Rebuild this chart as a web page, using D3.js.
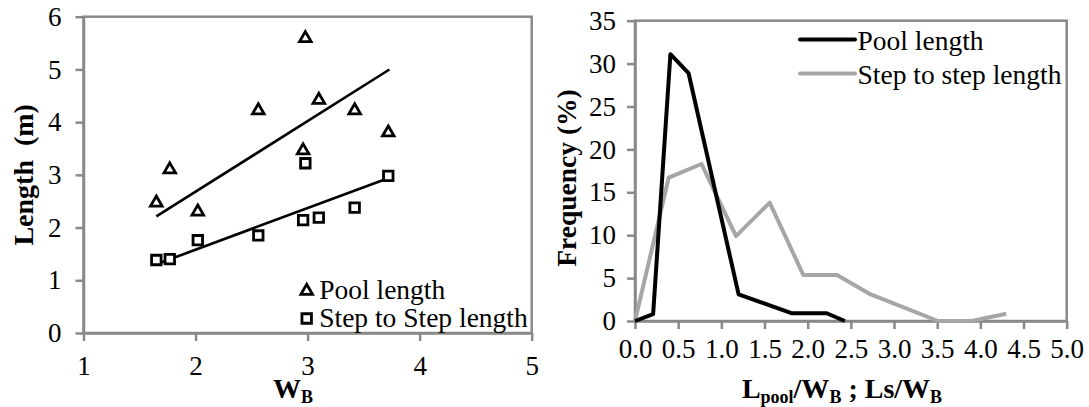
<!DOCTYPE html>
<html>
<head>
<meta charset="utf-8">
<script src="https://cdn.jsdelivr.net/npm/d3@7"></script>
<style>
  html, body { margin: 0; padding: 0; background: #fff; }
  svg { display: block; }
  text { font-family: "Liberation Serif", "Times New Roman", Tinos, "DejaVu Serif", serif; fill: #000; }
</style>
</head>
<body>
<svg id="chart" width="1089" height="407"></svg>
<script>
// ---- Left panel: length vs. bankfull width ----
const widthB      = [1.65, 1.77, 2.02, 2.56, 2.98, 2.96, 3.10, 3.42, 3.72];
const poolLength  = [2.49, 3.12, 2.32, 4.24, 5.61, 3.48, 4.44, 4.24, 3.82];
const stepLength  = [1.385, 1.40, 1.76, 1.85, 3.22, 2.14, 2.19, 2.38, 2.98];
// linear trends through the origin, y = a * W_B
const trendSlopes = [1.34, 0.79];
const trendRange  = [1.65, 3.73];
const leftXTicks  = [1, 2, 3, 4, 5];
const leftYTicks  = [0, 1, 2, 3, 4, 5, 6];

// ---- Right panel: frequency distributions ----
const poolRatio = [0, 0.21, 0.41, 0.62, 1.20, 1.82, 2.22, 2.43];
const poolFreq  = [0, 0.8, 31.1, 28.9, 3.1, 0.9, 0.9, 0];
const stepRatio = [0, 0.39, 0.77, 1.17, 1.56, 1.95, 2.34, 2.73, 3.51, 3.90, 4.30];
const stepFreq  = [0, 16.7, 18.3, 9.9, 13.8, 5.35, 5.35, 3.1, 0, 0, 0.85];
const rightXTicks = [0, 0.5, 1, 1.5, 2, 2.5, 3, 3.5, 4, 4.5, 5];
const rightYTicks = [0, 5, 10, 15, 20, 25, 30, 35];

const FONT = '"Liberation Serif", "Times New Roman", Tinos, "DejaVu Serif", serif';
const AXIS = "#898989";
const GREY = "#a6a6a6";
const TICK_FONT = 27;
const svg = d3.select("#chart");
svg.append("rect").attr("width", 1089).attr("height", 407).attr("fill", "#fff");

function frame(x, y) {
  const [x0, x1] = x.range(), [y0, y1] = y.range();
  svg.append("rect")
    .attr("x", x0).attr("y", y1)
    .attr("width", x1 - x0).attr("height", y0 - y1)
    .attr("fill", "none").attr("stroke", AXIS).attr("stroke-width", 2.5);
}

function styleAxis(g, size) {
  g.attr("font-family", FONT).attr("font-size", size);
  g.select(".domain").attr("stroke", AXIS).attr("stroke-width", 2.5);
  g.selectAll(".tick line").attr("stroke", AXIS).attr("stroke-width", 2.5);
  g.selectAll(".tick text")
    .attr("fill", "#000")
    .style("font-family", FONT)
    .style("font-size", size + "px");
}

// ===== Left panel =====
const xL = d3.scaleLinear().domain([1, 5]).range([83.5, 531.7]);
const yL = d3.scaleLinear().domain([0, 6]).range([333, 16.7]);
frame(xL, yL);

svg.append("g").attr("transform", `translate(0,${yL(0)})`)
  .call(d3.axisBottom(xL).tickValues(leftXTicks).tickFormat(d3.format("d"))
        .tickSizeInner(8).tickSizeOuter(0).tickPadding(15))
  .call(g => styleAxis(g, TICK_FONT));
svg.append("g").attr("transform", `translate(${xL(1)},0)`)
  .call(d3.axisLeft(yL).tickValues(leftYTicks).tickFormat(d3.format("d"))
        .tickSizeInner(8).tickSizeOuter(0).tickPadding(14))
  .call(g => styleAxis(g, TICK_FONT));

// trend lines
const trendLine = d3.line().x(d => xL(d[0])).y(d => yL(d[1]));
trendSlopes.forEach(a => {
  svg.append("path")
    .datum(trendRange.map(w => [w, a * w]))
    .attr("d", trendLine)
    .attr("fill", "none").attr("stroke", "#000").attr("stroke-width", 2.6);
});

const tri = d3.symbol().type(d3.symbolTriangle).size(58);
const sq  = d3.symbol().type(d3.symbolSquare).size(90);

svg.append("g").selectAll("path")
  .data(widthB.map((w, i) => [w, stepLength[i]]))
  .join("path")
  .attr("d", sq)
  .attr("transform", d => `translate(${xL(d[0])},${yL(d[1])})`)
  .attr("fill", "#fff").attr("stroke", "#000").attr("stroke-width", 2.8);

svg.append("g").selectAll("path")
  .data(widthB.map((w, i) => [w, poolLength[i]]))
  .join("path")
  .attr("d", tri)
  .attr("transform", d => `translate(${xL(d[0])},${yL(d[1]) + 1})`)
  .attr("fill", "#fff").attr("stroke", "#000").attr("stroke-width", 2.8);

// left legend
const legL = svg.append("g").attr("transform", "translate(306.7,0)");
legL.append("path").attr("d", tri).attr("transform", "translate(0,291)")
  .attr("fill", "#fff").attr("stroke", "#000").attr("stroke-width", 2.8);
legL.append("path").attr("d", sq).attr("transform", "translate(0,318.5)")
  .attr("fill", "#fff").attr("stroke", "#000").attr("stroke-width", 2.8);
legL.append("text").attr("x", 12.5).attr("y", 298.5).style("font-size", "27.5px").text("Pool length");
legL.append("text").attr("x", 12.5).attr("y", 326.8).style("font-size", "27.5px").text("Step to Step length");

// left axis titles
svg.append("text")
  .attr("transform", `translate(33,${(yL(0) + yL(6)) / 2}) rotate(-90)`)
  .attr("text-anchor", "middle")
  .style("font-size", "28px").style("font-weight", "bold")
  .text("Length\u00a0\u00a0(m)");

const wt = svg.append("text")
  .attr("x", 293).attr("y", 397.5)
  .attr("text-anchor", "middle")
  .style("font-size", "28px").style("font-weight", "bold");
wt.append("tspan").text("W");
wt.append("tspan").attr("dy", 5).style("font-size", "18px").text("B");

// ===== Right panel =====
const xR = d3.scaleLinear().domain([0, 5]).range([635, 1066.7]);
const yR = d3.scaleLinear().domain([0, 35]).range([321, 20.7]);
frame(xR, yR);

svg.append("g").attr("transform", `translate(0,${yR(0)})`)
  .call(d3.axisBottom(xR).tickValues(rightXTicks).tickFormat(d3.format(".1f"))
        .tickSizeInner(8).tickSizeOuter(0).tickPadding(10))
  .call(g => styleAxis(g, TICK_FONT));
svg.append("g").attr("transform", `translate(${xR(0)},0)`)
  .call(d3.axisLeft(yR).tickValues(rightYTicks).tickFormat(d3.format("d"))
        .tickSizeInner(8).tickSizeOuter(0).tickPadding(11))
  .call(g => styleAxis(g, TICK_FONT));

const freqLine = d3.line().x(d => xR(d[0])).y(d => yR(d[1]));
svg.append("path")
  .datum(stepRatio.map((r, i) => [r, stepFreq[i]]))
  .attr("d", freqLine)
  .attr("fill", "none").attr("stroke", GREY).attr("stroke-width", 4)
  .attr("stroke-linejoin", "round");
svg.append("path")
  .datum(poolRatio.map((r, i) => [r, poolFreq[i]]))
  .attr("d", freqLine)
  .attr("fill", "none").attr("stroke", "#000").attr("stroke-width", 4)
  .attr("stroke-linejoin", "round");

// right legend
const legR = svg.append("g");
legR.append("line").attr("x1", 800).attr("x2", 855).attr("y1", 39.5).attr("y2", 39.5)
  .attr("stroke", "#000").attr("stroke-width", 4).attr("stroke-linecap", "round");
legR.append("line").attr("x1", 800).attr("x2", 855).attr("y1", 73.5).attr("y2", 73.5)
  .attr("stroke", GREY).attr("stroke-width", 4).attr("stroke-linecap", "round");
legR.append("text").attr("x", 857.5).attr("y", 49.5).style("font-size", "27.5px").text("Pool length");
legR.append("text").attr("x", 857.5).attr("y", 84).style("font-size", "27.5px").text("Step to step length");

// right axis titles
svg.append("text")
  .attr("transform", `translate(576,178) rotate(-90)`)
  .attr("text-anchor", "middle")
  .style("font-size", "27.5px").style("font-weight", "bold")
  .text("Frequency (%)");

const rt = svg.append("text")
  .attr("x", 842).attr("y", 397.5)
  .attr("text-anchor", "middle")
  .style("font-size", "28px").style("font-weight", "bold");
rt.append("tspan").text("L");
rt.append("tspan").attr("dy", 5).style("font-size", "18px").text("pool");
rt.append("tspan").attr("dy", -5).text("/W");
rt.append("tspan").attr("dy", 5).style("font-size", "18px").text("B");
rt.append("tspan").attr("dy", -5).text(" ; Ls/W");
rt.append("tspan").attr("dy", 5).style("font-size", "18px").text("B");
</script>
</body>
</html>
